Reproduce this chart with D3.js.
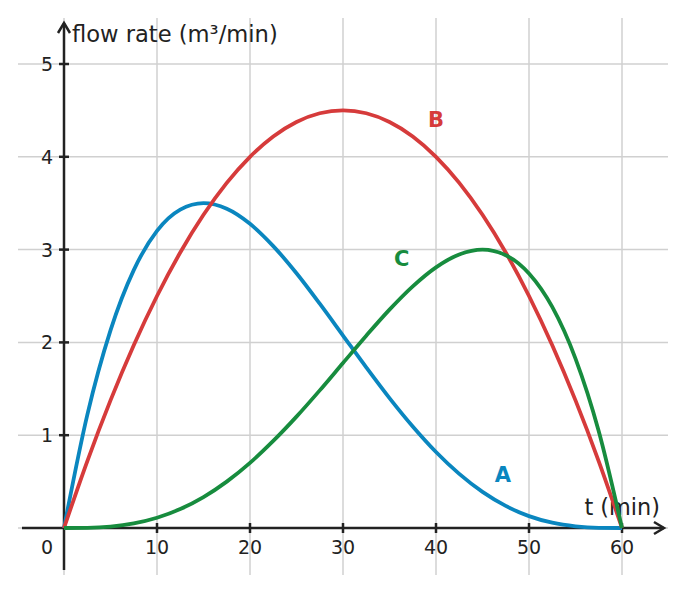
<!DOCTYPE html>
<html><head><meta charset="utf-8">
<script src="https://cdn.jsdelivr.net/npm/d3@7"></script>
<style>body{margin:0;background:#fff}svg{display:block}text{font-family:"DejaVu Sans",sans-serif}</style>
</head><body><svg id="c" width="686" height="593"></svg>
<script>
const times = [0,2.5,5,7.5,10,12.5,15,17.5,20,22.5,25,27.5,30,32.5,35,37.5,40,42.5,45,47.5,50,52.5,55,57.5,60];
const seriesA = [0,1.217,2.130,2.779,3.201,3.430,3.5,3.440,3.278,3.038,2.745,2.417,2.074,1.731,1.400,1.094,0.819,0.583,0.389,0.238,0.128,0.057,0.018,0.002,0];
const seriesB = [0,0.719,1.375,1.969,2.5,2.969,3.375,3.719,4.0,4.219,4.375,4.469,4.5,4.469,4.375,4.219,4.0,3.719,3.375,2.969,2.5,1.969,1.375,0.719,0];
const seriesC = [0,0.002,0.015,0.049,0.110,0.204,0.333,0.500,0.702,0.938,1.200,1.483,1.778,2.072,2.353,2.604,2.809,2.948,3.0,2.940,2.743,2.382,1.826,1.043,0];
const xTicks = [10,20,30,40,50,60];
const yTicks = [1,2,3,4,5];
const names = ["A","B","C"];
const colors = ["#0a86bf","#d63b3b","#178c3e"];
const labelPos = [[47.2,0.5],[40,4.32],[36.3,2.82]];

const svg = d3.select("#c");
const x = d3.scaleLinear().domain([0,60]).range([64,622]);
const y = d3.scaleLinear().domain([0,5]).range([528,64]);
const grid = "#d0d0d0";

// grid
svg.append("g").selectAll("line").data([0,...xTicks]).join("line")
  .attr("x1",d=>x(d)).attr("x2",d=>x(d)).attr("y1",18).attr("y2",575)
  .attr("stroke",grid).attr("stroke-width",1.5);
svg.append("g").selectAll("line").data([0,...yTicks]).join("line")
  .attr("y1",d=>y(d)).attr("y2",d=>y(d)).attr("x1",18).attr("x2",668)
  .attr("stroke",grid).attr("stroke-width",1.5);

// axes
const ax = "#222";
svg.append("line").attr("x1",22).attr("x2",664).attr("y1",y(0)).attr("y2",y(0)).attr("stroke",ax).attr("stroke-width",2.5);
svg.append("line").attr("x1",x(0)).attr("x2",x(0)).attr("y1",570).attr("y2",23).attr("stroke",ax).attr("stroke-width",2.5);
svg.append("path").attr("d",`M${654},${y(0)-6}L${664},${y(0)}L${654},${y(0)+6}`).attr("fill","none").attr("stroke",ax).attr("stroke-width",2.5).attr("stroke-linejoin","miter");
svg.append("path").attr("d",`M${x(0)-6},${33}L${x(0)},${23}L${x(0)+6},${33}`).attr("fill","none").attr("stroke",ax).attr("stroke-width",2.5);

// ticks
svg.append("g").selectAll("line").data(xTicks).join("line")
  .attr("x1",d=>x(d)).attr("x2",d=>x(d)).attr("y1",y(0)-5).attr("y2",y(0)+5).attr("stroke",ax).attr("stroke-width",2.5);
svg.append("g").selectAll("line").data(yTicks).join("line")
  .attr("y1",d=>y(d)).attr("y2",d=>y(d)).attr("x1",x(0)-5).attr("x2",x(0)+5).attr("stroke",ax).attr("stroke-width",2.5);

// tick labels
svg.append("g").selectAll("text").data(xTicks).join("text")
  .attr("x",d=>x(d)).attr("y",y(0)+26).attr("text-anchor","middle").attr("font-size",19).attr("fill","#222").text(d=>d);
svg.append("g").selectAll("text").data(yTicks).join("text")
  .attr("x",x(0)-11).attr("y",d=>y(d)+7).attr("text-anchor","end").attr("font-size",19).attr("fill","#222").text(d=>d);
svg.append("text").attr("x",x(0)-11).attr("y",y(0)+26).attr("text-anchor","end").attr("font-size",19).attr("fill","#222").text("0");

// axis titles
svg.append("text").attr("x",72).attr("y",42).attr("font-size",22.6).attr("fill","#222").text("flow rate (m³/min)");
svg.append("text").attr("x",660).attr("y",515).attr("text-anchor","end").attr("font-size",22.4).attr("fill","#222").text("t (min)");

// curves
const line = d3.line().x((d,i)=>x(times[i])).y(d=>y(d)).curve(d3.curveMonotoneX);
[seriesA,seriesB,seriesC].forEach((s,k)=>{
  svg.append("path").datum(s).attr("d",line).attr("fill","none").attr("stroke",colors[k]).attr("stroke-width",3.8);
});
names.forEach((n,k)=>{
  svg.append("text").attr("x",x(labelPos[k][0])).attr("y",y(labelPos[k][1])).attr("text-anchor","middle")
    .attr("font-size",21).attr("font-weight","bold").attr("fill",colors[k]).text(n);
});
</script></body></html>
